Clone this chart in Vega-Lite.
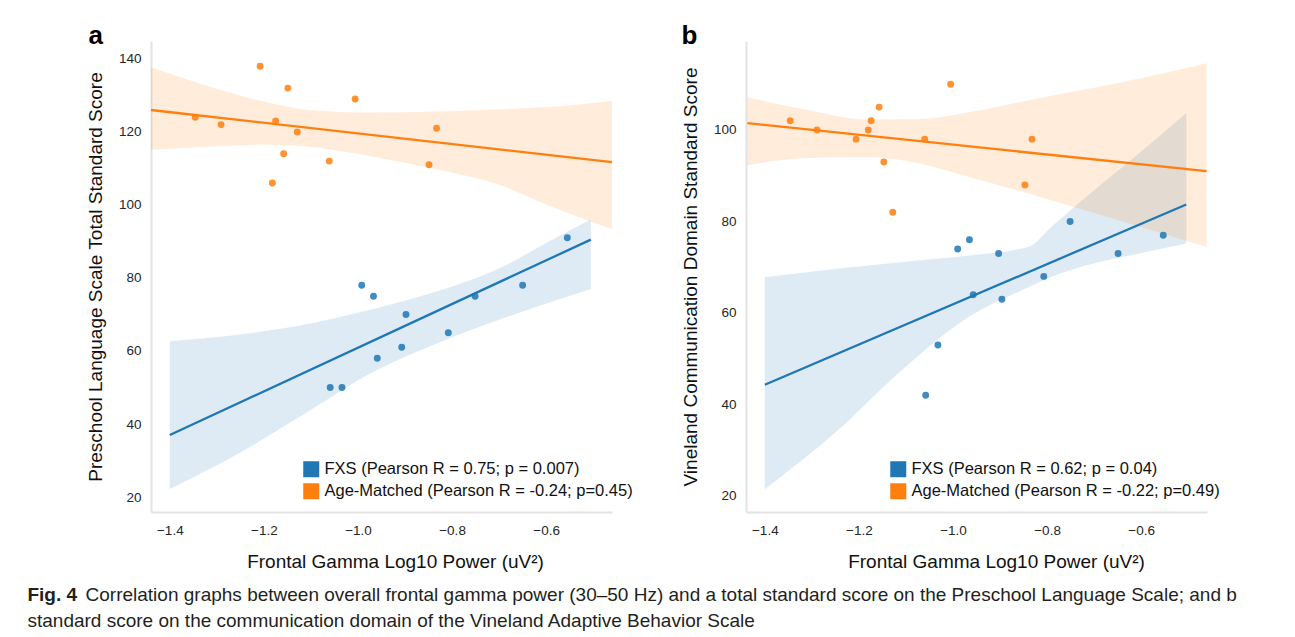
{
  "$schema": "https://vega.github.io/schema/vega-lite/v6.json",
  "background": "white",
  "autosize": {"type": "pad"},
  "padding": {"left": 27, "top": 23, "right": 10, "bottom": 4},
  "datasets": {
    "pointsA": [
      {"x": -1.346, "y": 124, "group": "Age-Matched"},
      {"x": -1.291, "y": 122, "group": "Age-Matched"},
      {"x": -1.208, "y": 138, "group": "Age-Matched"},
      {"x": -1.149, "y": 132, "group": "Age-Matched"},
      {"x": -1.175, "y": 123, "group": "Age-Matched"},
      {"x": -1.129, "y": 120, "group": "Age-Matched"},
      {"x": -1.158, "y": 114, "group": "Age-Matched"},
      {"x": -1.182, "y": 106, "group": "Age-Matched"},
      {"x": -1.006, "y": 129, "group": "Age-Matched"},
      {"x": -1.061, "y": 112, "group": "Age-Matched"},
      {"x": -0.833, "y": 121, "group": "Age-Matched"},
      {"x": -0.849, "y": 111, "group": "Age-Matched"},
      {"x": -0.992, "y": 78, "group": "FXS"},
      {"x": -0.967, "y": 75, "group": "FXS"},
      {"x": -0.898, "y": 70, "group": "FXS"},
      {"x": -0.751, "y": 75, "group": "FXS"},
      {"x": -0.650, "y": 78, "group": "FXS"},
      {"x": -0.808, "y": 65, "group": "FXS"},
      {"x": -0.907, "y": 61, "group": "FXS"},
      {"x": -0.959, "y": 58, "group": "FXS"},
      {"x": -1.059, "y": 50, "group": "FXS"},
      {"x": -1.034, "y": 50, "group": "FXS"},
      {"x": -0.555, "y": 91, "group": "FXS"}
    ],
    "linesA": [
      {"x": -1.4, "y": 37.0, "group": "FXS"},
      {"x": -0.505, "y": 90.5, "group": "FXS"},
      {"x": -1.44, "y": 126.0, "group": "Age-Matched"},
      {"x": -0.46, "y": 111.7, "group": "Age-Matched"}
    ],
    "bandsA": [
      {"x": -1.4, "lo": 22.2, "hi": 62.7, "group": "FXS"},
      {"x": -1.25, "lo": 32.2, "hi": 64.5, "group": "FXS"},
      {"x": -1.11, "lo": 43.1, "hi": 67.3, "group": "FXS"},
      {"x": -0.97, "lo": 54.1, "hi": 71.4, "group": "FXS"},
      {"x": -0.83, "lo": 62.2, "hi": 76.4, "group": "FXS"},
      {"x": -0.69, "lo": 69.0, "hi": 83.2, "group": "FXS"},
      {"x": -0.6, "lo": 73.0, "hi": 89.6, "group": "FXS"},
      {"x": -0.505, "lo": 77.0, "hi": 96.0, "group": "FXS"},
      {"x": -1.44, "lo": 115.1, "hi": 137.7, "group": "Age-Matched"},
      {"x": -1.34, "lo": 115.8, "hi": 133.4, "group": "Age-Matched"},
      {"x": -1.2, "lo": 116.5, "hi": 128.3, "group": "Age-Matched"},
      {"x": -1.11, "lo": 116.0, "hi": 126.1, "group": "Age-Matched"},
      {"x": -0.97, "lo": 113.3, "hi": 125.3, "group": "Age-Matched"},
      {"x": -0.83, "lo": 109.7, "hi": 125.6, "group": "Age-Matched"},
      {"x": -0.69, "lo": 105.1, "hi": 126.2, "group": "Age-Matched"},
      {"x": -0.6, "lo": 100.1, "hi": 126.8, "group": "Age-Matched"},
      {"x": -0.46, "lo": 93.4, "hi": 128.5, "group": "Age-Matched"}
    ],
    "pointsB": [
      {"x": -1.346, "y": 102, "group": "Age-Matched"},
      {"x": -1.289, "y": 100, "group": "Age-Matched"},
      {"x": -1.206, "y": 98, "group": "Age-Matched"},
      {"x": -1.180, "y": 100, "group": "Age-Matched"},
      {"x": -1.174, "y": 102, "group": "Age-Matched"},
      {"x": -1.157, "y": 105, "group": "Age-Matched"},
      {"x": -1.147, "y": 93, "group": "Age-Matched"},
      {"x": -1.128, "y": 82, "group": "Age-Matched"},
      {"x": -1.060, "y": 98, "group": "Age-Matched"},
      {"x": -1.005, "y": 110, "group": "Age-Matched"},
      {"x": -0.832, "y": 98, "group": "Age-Matched"},
      {"x": -0.847, "y": 88, "group": "Age-Matched"},
      {"x": -0.751, "y": 80, "group": "FXS"},
      {"x": -0.965, "y": 76, "group": "FXS"},
      {"x": -0.990, "y": 74, "group": "FXS"},
      {"x": -0.903, "y": 73, "group": "FXS"},
      {"x": -0.649, "y": 73, "group": "FXS"},
      {"x": -0.807, "y": 68, "group": "FXS"},
      {"x": -0.957, "y": 64, "group": "FXS"},
      {"x": -0.896, "y": 63, "group": "FXS"},
      {"x": -1.032, "y": 53, "group": "FXS"},
      {"x": -1.058, "y": 42, "group": "FXS"},
      {"x": -0.553, "y": 77, "group": "FXS"}
    ],
    "linesB": [
      {"x": -1.4, "y": 44.3, "group": "FXS"},
      {"x": -0.504, "y": 83.7, "group": "FXS"},
      {"x": -1.437, "y": 101.5, "group": "Age-Matched"},
      {"x": -0.461, "y": 91.0, "group": "Age-Matched"}
    ],
    "bandsB": [
      {"x": -1.4, "lo": 21.5, "hi": 67.8, "group": "FXS"},
      {"x": -1.25, "lo": 33.9, "hi": 69.6, "group": "FXS"},
      {"x": -1.11, "lo": 47.4, "hi": 71.1, "group": "FXS"},
      {"x": -0.97, "lo": 58.9, "hi": 72.5, "group": "FXS"},
      {"x": -0.84, "lo": 65.6, "hi": 74.4, "group": "FXS"},
      {"x": -0.79, "lo": 67.9, "hi": 78.9, "group": "FXS"},
      {"x": -0.72, "lo": 70.3, "hi": 85.1, "group": "FXS"},
      {"x": -0.61, "lo": 72.9, "hi": 94.4, "group": "FXS"},
      {"x": -0.504, "lo": 75.2, "hi": 103.7, "group": "FXS"},
      {"x": -1.437, "lo": 92.3, "hi": 107.1, "group": "Age-Matched"},
      {"x": -1.32, "lo": 93.8, "hi": 104.6, "group": "Age-Matched"},
      {"x": -1.18, "lo": 94.1, "hi": 102.3, "group": "Age-Matched"},
      {"x": -1.07, "lo": 92.7, "hi": 102.4, "group": "Age-Matched"},
      {"x": -0.965, "lo": 89.7, "hi": 103.9, "group": "Age-Matched"},
      {"x": -0.823, "lo": 85.6, "hi": 106.8, "group": "Age-Matched"},
      {"x": -0.611, "lo": 79.1, "hi": 111.1, "group": "Age-Matched"},
      {"x": -0.461, "lo": 74.4, "hi": 114.6, "group": "Age-Matched"}
    ]
  },
  "config": {
    "view": {"stroke": null},
    "font": "Liberation Sans",
    "axis": {
      "grid": false, "ticks": false, "domainColor": "#e3e3e3", "domainWidth": 2,
      "labelFont": "Liberation Sans", "labelFontSize": 13.5, "labelColor": "#262626",
      "titleFont": "Liberation Sans", "titleFontSize": 19, "titleFontWeight": "normal", "titleColor": "#111111"
    },
    "legend": {
      "orient": "none", "title": null, "symbolType": "square", "symbolSize": 256,
      "symbolOpacity": 1, "symbolStrokeWidth": 0, "labelFontSize": 16.5, "labelColor": "#111111", "labelFont": "Liberation Sans",
      "rowPadding": 5, "labelOffset": 5, "labelLimit": 500
    }
  },
  "title": {
    "text": "Fig. 4",
    "subtitle": [
      "\u200b\u00a0\u00a0\u00a0\u00a0\u00a0\u00a0\u00a0\u00a0\u00a0\u00a0\u00a0Correlation graphs between overall frontal gamma power (30\u201350 Hz) and a total standard score on the Preschool Language Scale; and b",
      "standard score on the communication domain of the Vineland Adaptive Behavior Scale"
    ],
    "orient": "bottom", "anchor": "start", "frame": "bounds", "dx": -59, "offset": 14,
    "font": "Liberation Sans", "fontSize": 19, "fontWeight": "bold", "color": "#231f20",
    "subtitleFont": "Liberation Sans", "subtitleFontSize": 19, "subtitleColor": "#231f20",
    "subtitleLineHeight": 26, "subtitlePadding": -19
  },
  "spacing": 48,
  "resolve": {
    "scale": {"x": "independent", "y": "independent", "color": "independent"},
    "legend": {"color": "independent"}
  },
  "hconcat": [
    {
      "width": 461, "height": 471,
      "title": {"text": "a", "anchor": "start", "frame": "bounds", "fontSize": 26, "fontWeight": "bold", "baseline": "alphabetic", "offset": -29, "dx": 2, "color": "#000000"},
      "layer": [
        {
          "data": {"name": "bandsA"},
          "mark": {"type": "area", "opacity": 0.15, "interpolate": "monotone"},
          "encoding": {
            "x": {"field": "x", "type": "quantitative", "scale": {"domain": [-1.44, -0.46], "nice": false, "zero": false},
                  "axis": {"values": [-1.4, -1.2, -1.0, -0.8, -0.6], "format": ".1f", "labelPadding": 11, "titlePadding": 16, "titleX": 244, "title": "Frontal Gamma Log10 Power (uV\u00b2)"}},
            "y": {"field": "lo", "type": "quantitative", "scale": {"domain": [15.9, 144.9], "nice": false, "zero": false},
                  "axis": {"values": [20, 40, 60, 80, 100, 120, 140], "labelPadding": 10, "titlePadding": 13, "title": "Preschool Language Scale Total Standard Score"}},
            "y2": {"field": "hi"},
            "color": {"field": "group", "type": "nominal", "scale": {"domain": ["FXS", "Age-Matched"], "range": ["#1f77b4", "#ff7f0e"]},
              "legend": {"legendX": 152, "legendY": 420, "labelExpr": "datum.label == 'FXS' ? 'FXS (Pearson R = 0.75; p = 0.007)' : 'Age-Matched (Pearson R = -0.24; p=0.45)'"}}
          }
        },
        {
          "data": {"name": "linesA"},
          "mark": {"type": "line", "strokeWidth": 2.3},
          "encoding": {
            "x": {"field": "x", "type": "quantitative"},
            "y": {"field": "y", "type": "quantitative"},
            "color": {"field": "group", "type": "nominal",
              "legend": {"legendX": 152, "legendY": 420, "labelExpr": "datum.label == 'FXS' ? 'FXS (Pearson R = 0.75; p = 0.007)' : 'Age-Matched (Pearson R = -0.24; p=0.45)'"}}
          }
        },
        {
          "data": {"name": "pointsA"},
          "mark": {"type": "circle", "size": 48, "opacity": 0.85},
          "encoding": {
            "x": {"field": "x", "type": "quantitative"},
            "y": {"field": "y", "type": "quantitative"},
            "color": {"field": "group", "type": "nominal",
              "legend": {"legendX": 152, "legendY": 420, "labelExpr": "datum.label == 'FXS' ? 'FXS (Pearson R = 0.75; p = 0.007)' : 'Age-Matched (Pearson R = -0.24; p=0.45)'"}}
          }
        }
      ]
    },
    {
      "width": 461, "height": 471,
      "title": {"text": "b", "anchor": "start", "frame": "bounds", "fontSize": 26, "fontWeight": "bold", "baseline": "alphabetic", "offset": -29, "dx": 0, "color": "#000000"},
      "layer": [
        {
          "data": {"name": "bandsB"},
          "mark": {"type": "area", "opacity": 0.15, "interpolate": "monotone"},
          "encoding": {
            "x": {"field": "x", "type": "quantitative", "scale": {"domain": [-1.44, -0.46], "nice": false, "zero": false},
                  "axis": {"values": [-1.4, -1.2, -1.0, -0.8, -0.6], "format": ".1f", "labelPadding": 11, "titlePadding": 16, "titleX": 250, "title": "Frontal Gamma Log10 Power (uV\u00b2)"}},
            "y": {"field": "lo", "type": "quantitative", "scale": {"domain": [16.5, 119.45], "nice": false, "zero": false},
                  "axis": {"values": [20, 40, 60, 80, 100], "labelPadding": 10, "titlePadding": 13, "title": "Vineland Communication Domain Standard Score"}},
            "y2": {"field": "hi"},
            "color": {"field": "group", "type": "nominal", "scale": {"domain": ["FXS", "Age-Matched"], "range": ["#1f77b4", "#ff7f0e"]},
              "legend": {"legendX": 144, "legendY": 420, "labelExpr": "datum.label == 'FXS' ? 'FXS (Pearson R = 0.62; p = 0.04)' : '\u00a0Age-Matched (Pearson R = -0.22; p=0.49)'"}}
          }
        },
        {
          "data": {"name": "linesB"},
          "mark": {"type": "line", "strokeWidth": 2.3},
          "encoding": {
            "x": {"field": "x", "type": "quantitative"},
            "y": {"field": "y", "type": "quantitative"},
            "color": {"field": "group", "type": "nominal",
              "legend": {"legendX": 144, "legendY": 420, "labelExpr": "datum.label == 'FXS' ? 'FXS (Pearson R = 0.62; p = 0.04)' : '\u00a0Age-Matched (Pearson R = -0.22; p=0.49)'"}}
          }
        },
        {
          "data": {"name": "pointsB"},
          "mark": {"type": "circle", "size": 48, "opacity": 0.85},
          "encoding": {
            "x": {"field": "x", "type": "quantitative"},
            "y": {"field": "y", "type": "quantitative"},
            "color": {"field": "group", "type": "nominal",
              "legend": {"legendX": 144, "legendY": 420, "labelExpr": "datum.label == 'FXS' ? 'FXS (Pearson R = 0.62; p = 0.04)' : '\u00a0Age-Matched (Pearson R = -0.22; p=0.49)'"}}
          }
        }
      ]
    }
  ]
}
